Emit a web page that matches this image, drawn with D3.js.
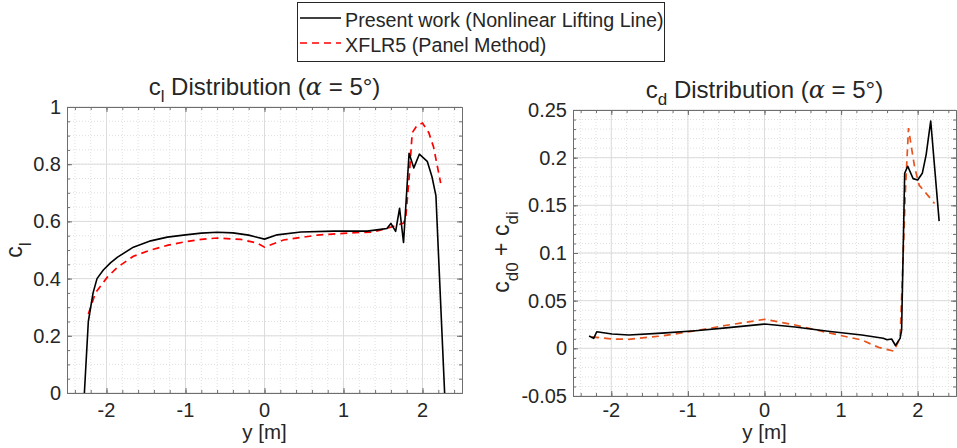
<!DOCTYPE html>
<html>
<head>
<meta charset="utf-8">
<script src="https://cdn.jsdelivr.net/npm/d3@7"></script>
<style>
  body { margin: 0; background: #fff; }
  svg { display: block; }
  text { font-family: "Liberation Sans", Arial, sans-serif; fill: #262626; }
</style>
</head>
<body>
<div id="chart"></div>
<script>
// span positions [m]
var yClPresent = [-2.28, -2.23, -2.17, -2.12, -2.04, -1.95, -1.86, -1.66, -1.44, -1.23, -1.0, -0.8, -0.6, -0.4, -0.2, 0,
    0.16, 0.46, 0.88, 1.3, 1.47, 1.55, 1.6, 1.66, 1.71, 1.76, 1.83, 1.89, 1.96, 2.06, 2.12, 2.17, 2.2, 2.28];
var clPresent = [0, 0.25, 0.35, 0.40, 0.43, 0.455, 0.475, 0.51, 0.532, 0.545, 0.553, 0.559, 0.562, 0.56, 0.552, 0.538,
    0.553, 0.563, 0.566, 0.566, 0.572, 0.575, 0.593, 0.565, 0.646, 0.526, 0.838, 0.787, 0.835, 0.81, 0.756, 0.69, 0.5, 0];

var yClXflr = [-2.23, -2.14, -1.99, -1.86, -1.66, -1.44, -1.22, -1.02, -0.8, -0.6, -0.3, -0.1, 0,
    0.24, 0.67, 1.09, 1.38, 1.6, 1.76, 1.79, 1.83, 1.87, 1.93, 2.0, 2.08, 2.14, 2.23];
var clXflr = [0.276, 0.35, 0.405, 0.44, 0.478, 0.50, 0.517, 0.528, 0.537, 0.542, 0.537, 0.525, 0.51,
    0.535, 0.552, 0.56, 0.563, 0.58, 0.594, 0.62, 0.75, 0.91, 0.935, 0.944, 0.91, 0.86, 0.734];

var yCdPresent = [-2.29, -2.23, -2.19, -1.99, -1.77, -1.34, -0.9, -0.47, 0, 0.4, 0.83, 1.27, 1.55, 1.6, 1.66, 1.71,
    1.77, 1.79, 1.83, 1.87, 1.94, 2.0, 2.06, 2.11, 2.17, 2.28];
var cdPresent = [0.0129, 0.0105, 0.0174, 0.015, 0.014, 0.016, 0.0185, 0.0217, 0.0255, 0.0224, 0.018, 0.014, 0.0105, 0.009, 0.0098, 0.003,
    0.0105, 0.019, 0.1836, 0.191, 0.178, 0.1766, 0.1836, 0.203, 0.2385, 0.1335];

var yCdXflr = [-2.25, -1.99, -1.77, -1.34, -0.9, -0.47, 0, 0.4, 0.83, 1.27, 1.49, 1.69, 1.77, 1.81, 1.84, 1.88,
    1.91, 1.96, 2.02, 2.11, 2.22];
var cdXflr = [0.012, 0.0098, 0.0095, 0.013, 0.0185, 0.0245, 0.0304, 0.0245, 0.0164, 0.0087, 0.001, -0.003, 0.011, 0.096, 0.166, 0.231,
    0.215, 0.19, 0.171, 0.1626, 0.152];

var xTicks = [-2, -1, 0, 1, 2];
var clTicks = [0, 0.2, 0.4, 0.6, 0.8, 1];
var cdTicks = [-0.05, 0, 0.05, 0.1, 0.15, 0.2, 0.25];

var legendLabels = ['Present work (Nonlinear Lifting Line)', 'XFLR5 (Panel Method)'];

var width = 957, height = 448;
var svg = d3.select('#chart').append('svg')
    .attr('width', width)
    .attr('height', height);

function fmt(v) { return String(+v.toFixed(2)); }

function panel(opt) {
    var x = d3.scaleLinear().domain([-2.5, 2.5]).range([opt.left, opt.right]);
    var y = d3.scaleLinear().domain(opt.yDomain).range([opt.bottom, opt.top]);
    var g = svg.append('g');

    // minor grid (dotted)
    var xMinor = d3.range(-2.4, 2.41, 0.2).map(function(v) { return +v.toFixed(2); });
    var yMinor = d3.range(opt.yDomain[0], opt.yDomain[1] + 1e-9, opt.yMinorStep).map(function(v) { return +v.toFixed(3); });
    g.selectAll('.xminor').data(xMinor).enter().append('line')
        .attr('x1', function(d) { return x(d); }).attr('x2', function(d) { return x(d); })
        .attr('y1', opt.top).attr('y2', opt.bottom)
        .attr('stroke', '#e0e0e0').attr('stroke-width', 1).attr('stroke-dasharray', '1,2');
    g.selectAll('.yminor').data(yMinor).enter().append('line')
        .attr('y1', function(d) { return y(d); }).attr('y2', function(d) { return y(d); })
        .attr('x1', opt.left).attr('x2', opt.right)
        .attr('stroke', '#e0e0e0').attr('stroke-width', 1).attr('stroke-dasharray', '1,2');
    // major grid
    g.selectAll('.xmajor').data(xTicks).enter().append('line')
        .attr('x1', function(d) { return x(d); }).attr('x2', function(d) { return x(d); })
        .attr('y1', opt.top).attr('y2', opt.bottom)
        .attr('stroke', '#dcdcdc').attr('stroke-width', 1);
    g.selectAll('.ymajor').data(opt.yTicks).enter().append('line')
        .attr('y1', function(d) { return y(d); }).attr('y2', function(d) { return y(d); })
        .attr('x1', opt.left).attr('x2', opt.right)
        .attr('stroke', '#dcdcdc').attr('stroke-width', 1);

    // axes with inward ticks (box on)
    function styleAxis(sel) {
        sel.select('.domain').attr('stroke', '#6e6e6e');
        sel.selectAll('.tick line').attr('stroke', '#6e6e6e');
        sel.selectAll('text').remove();
    }
    var axes = [
        [d3.axisBottom(x), 'translate(0,' + opt.bottom + ')'],
        [d3.axisTop(x), 'translate(0,' + opt.top + ')'],
        [d3.axisLeft(y), 'translate(' + opt.left + ',0)'],
        [d3.axisRight(y), 'translate(' + opt.right + ',0)']
    ];
    axes.forEach(function(a, i) {
        var isX = i < 2;
        var major = a[0].tickValues(isX ? xTicks : opt.yTicks).tickSizeInner(-5).tickSizeOuter(0);
        g.append('g').attr('transform', a[1]).call(major).call(styleAxis);
        var minorAxis = (i === 0 ? d3.axisBottom(x) : i === 1 ? d3.axisTop(x) : i === 2 ? d3.axisLeft(y) : d3.axisRight(y));
        minorAxis.tickValues(isX ? xMinor : yMinor).tickSizeInner(-3).tickSizeOuter(0);
        g.append('g').attr('transform', a[1]).call(minorAxis).call(styleAxis);
    });

    // tick labels
    g.selectAll('.xl').data(xTicks).enter().append('text')
        .attr('x', function(d) { return x(d); })
        .attr('y', 417)
        .attr('text-anchor', 'middle')
        .style('font-size', '20px')
        .text(fmt);
    g.selectAll('.yl').data(opt.yTicks).enter().append('text')
        .attr('x', opt.left - 6)
        .attr('y', function(d) { return y(d) + 7; })
        .attr('text-anchor', 'end')
        .style('font-size', '20px')
        .text(fmt);

    // lines
    var line = d3.line().x(function(d) { return x(d[0]); }).y(function(d) { return y(d[1]); });
    g.append('path')
        .datum(d3.zip(opt.xsB, opt.ysB))
        .attr('d', line)
        .attr('fill', 'none')
        .attr('stroke', opt.dashColor)
        .attr('stroke-width', 1.7)
        .attr('stroke-dasharray', '7,5');
    g.append('path')
        .datum(d3.zip(opt.xsA, opt.ysA))
        .attr('d', line)
        .attr('fill', 'none')
        .attr('stroke', '#000')
        .attr('stroke-width', 1.6)
        .attr('stroke-linejoin', 'round');

    // titles & labels
    var cx = (opt.left + opt.right) / 2;
    var t = g.append('text').attr('x', cx).attr('y', opt.top - 12)
        .attr('text-anchor', 'middle').style('font-size', '24px');
    t.append('tspan').text('c');
    t.append('tspan').attr('dy', 7).style('font-size', '17px').text(opt.sub);
    t.append('tspan').attr('dy', -7).text(' Distribution (');
    t.append('tspan').style('font-family', '"DejaVu Serif", serif').style('font-style', 'italic').text('\u03b1');
    t.append('tspan').text(' = 5\u00b0)');

    g.append('text').attr('x', cx).attr('y', 439)
        .attr('text-anchor', 'middle').style('font-size', '20.5px')
        .text('y [m]');

    var yl = g.append('text')
        .attr('transform', 'translate(' + opt.ylabX + ',' + opt.ylabY + ') rotate(-90)')
        .attr('text-anchor', 'middle').style('font-size', '23px');
    opt.ylab.forEach(function(p) {
        var ts = yl.append('tspan').text(p[0]);
        if (p[1]) ts.attr('dy', p[1]);
        if (p[2]) ts.style('font-size', p[2]);
    });
}

panel({
    id: 'cl', left: 67, right: 462, top: 107, bottom: 393,
    yDomain: [0, 1], yTicks: clTicks, yMinorStep: 0.05,
    xsA: yClPresent, ysA: clPresent, xsB: yClXflr, ysB: clXflr,
    dashColor: '#ff0000', sub: 'l',
    ylab: [['c'], ['l', 9, '17px']], ylabX: 22, ylabY: 250
});

panel({
    id: 'cd', left: 573, right: 956, top: 110, bottom: 396,
    yDomain: [-0.05, 0.25], yTicks: cdTicks, yMinorStep: 0.01,
    xsA: yCdPresent, ysA: cdPresent, xsB: yCdXflr, ysB: cdXflr,
    dashColor: '#e8541e', sub: 'd',
    ylab: [['c'], ['d0', 9, '17px'], [' + c', -9, '23px'], ['di', 9, '17px']], ylabX: 509, ylabY: 252
});

// legend
var lg = svg.append('g');
lg.append('rect').attr('x', 297.5).attr('y', 2.5).attr('width', 367).attr('height', 59)
    .attr('fill', '#fff').attr('stroke', '#262626').attr('stroke-width', 1);
var legendStyles = [{ color: '#000', dash: null }, { color: '#ff0000', dash: '7,5' }];
legendLabels.forEach(function(label, i) {
    var yy = 18 + i * 25;
    lg.append('line').attr('x1', 300).attr('x2', 341).attr('y1', yy).attr('y2', yy)
        .attr('stroke', legendStyles[i].color).attr('stroke-width', 1.7)
        .attr('stroke-dasharray', legendStyles[i].dash);
    lg.append('text').attr('x', 345).attr('y', yy + 9).style('font-size', '19.7px').text(label);
});
</script>
</body>
</html>
